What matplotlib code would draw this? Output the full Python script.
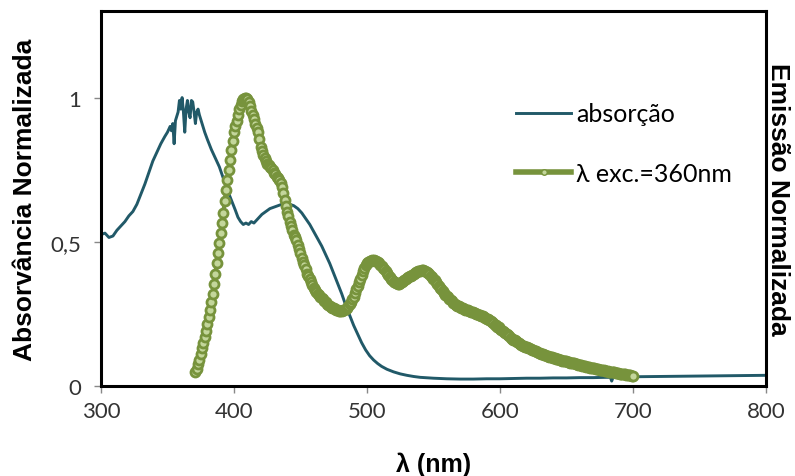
import numpy as np
import matplotlib
matplotlib.use('Agg')
import matplotlib.pyplot as plt

# absorption spectrum (wavelength nm, normalised absorbance)
abs_wl = [300, 303, 306, 309, 312, 315, 318, 321, 324, 327, 330, 333, 336, 339, 342,
          345, 348, 350, 352, 353, 354, 355, 356, 358, 359, 360, 361, 362, 363, 364,
          365, 366, 367, 368, 369, 370, 371, 372, 373, 374, 376, 378, 380, 383, 386,
          389, 392, 395, 398, 401, 403, 405, 407, 409, 411, 413, 415, 418, 421, 424,
          427, 430, 433, 436, 439, 442, 445, 448, 451, 454, 457, 460, 463, 466, 469,
          472, 475, 478, 481, 484, 487, 490, 493, 496, 499, 502, 505, 508, 511, 515,
          520, 525, 530, 535, 540, 550, 560, 570, 580, 590, 600, 610, 620, 630, 640,
          650, 660, 670, 680, 683, 684, 685, 690, 700, 720, 740, 760, 780, 800]
abs_val = [0.525, 0.53, 0.515, 0.52, 0.54, 0.555, 0.57, 0.59, 0.605, 0.63, 0.665, 0.70, 0.74, 0.78, 0.81,
           0.84, 0.865, 0.88, 0.90, 0.885, 0.91, 0.84, 0.92, 0.95, 0.99, 0.96, 1.0, 0.95, 0.88, 0.96,
           0.99, 0.95, 0.93, 0.99, 0.985, 0.95, 0.91, 0.95, 0.96, 0.94, 0.91, 0.88, 0.855, 0.82, 0.79,
           0.76, 0.72, 0.68, 0.645, 0.61, 0.585, 0.57, 0.56, 0.565, 0.56, 0.57, 0.565, 0.58, 0.595, 0.605,
           0.615, 0.62, 0.625, 0.63, 0.632, 0.63, 0.625, 0.615, 0.60, 0.58, 0.56, 0.535, 0.51, 0.485, 0.455,
           0.425, 0.39, 0.355, 0.32, 0.28, 0.245, 0.21, 0.18, 0.15, 0.125, 0.105, 0.09, 0.078, 0.068, 0.058,
           0.049, 0.042, 0.037, 0.033, 0.03, 0.027, 0.025, 0.024, 0.024, 0.025, 0.025, 0.026, 0.027, 0.027, 0.028,
           0.028, 0.029, 0.029, 0.03, 0.03, 0.017, 0.03, 0.031, 0.032, 0.033, 0.034, 0.035, 0.036, 0.037]

# emission spectrum, excitation 360 nm, 1 nm steps from 371 to 700
em_wl = list(range(371, 701))
em_val = [0.05, 0.06, 0.075, 0.09, 0.11, 0.13, 0.15, 0.17, 0.19, 0.215,
          0.24, 0.265, 0.29, 0.32, 0.355, 0.39, 0.425, 0.46, 0.495, 0.53,
          0.565, 0.60, 0.64, 0.68, 0.715, 0.75, 0.785, 0.82, 0.85, 0.88,
          0.90, 0.92, 0.94, 0.96, 0.975, 0.988, 0.996, 1.0, 1.0, 0.995,
          0.985, 0.97, 0.955, 0.94, 0.925, 0.91, 0.895, 0.88, 0.855, 0.83,
          0.815, 0.80, 0.79, 0.78, 0.77, 0.765, 0.76, 0.755, 0.75, 0.74,
          0.735, 0.725, 0.72, 0.715, 0.705, 0.69, 0.67, 0.645, 0.625, 0.605,
          0.59, 0.57, 0.555, 0.54, 0.525, 0.515, 0.505, 0.49, 0.475, 0.46,
          0.445, 0.43, 0.42, 0.405, 0.39, 0.38, 0.37, 0.36, 0.35,
          0.34, 0.332, 0.325, 0.32, 0.315, 0.31, 0.305, 0.30, 0.295, 0.29,
          0.285, 0.281, 0.278, 0.275, 0.272, 0.27, 0.267, 0.264, 0.262, 0.261,
          0.26, 0.26, 0.262, 0.265, 0.268, 0.272, 0.277, 0.283, 0.29, 0.30,
          0.31, 0.322, 0.335, 0.348, 0.36, 0.372, 0.385, 0.398, 0.41, 0.418,
          0.425, 0.429, 0.432, 0.434, 0.436, 0.436, 0.435, 0.433, 0.43, 0.425,
          0.42, 0.415, 0.41, 0.404, 0.397, 0.391, 0.385, 0.378, 0.372, 0.367,
          0.362, 0.359, 0.356, 0.355, 0.355, 0.357, 0.36, 0.363, 0.367, 0.37,
          0.374, 0.377, 0.38, 0.383, 0.386, 0.389, 0.392, 0.395, 0.397, 0.399,
          0.40, 0.401, 0.401, 0.40, 0.398, 0.395, 0.392, 0.388, 0.383, 0.378,
          0.372, 0.366, 0.36, 0.353, 0.347, 0.341, 0.335, 0.329, 0.323, 0.317,
          0.312, 0.307, 0.302, 0.297, 0.293, 0.289, 0.285, 0.282, 0.279, 0.276,
          0.274, 0.271, 0.269, 0.267, 0.265, 0.263, 0.262, 0.26, 0.258, 0.256,
          0.255, 0.253, 0.251, 0.249, 0.247, 0.245, 0.243, 0.241, 0.239, 0.237,
          0.234, 0.231, 0.228, 0.225, 0.221, 0.217, 0.213, 0.21, 0.206, 0.203,
          0.199, 0.195, 0.191, 0.188, 0.184, 0.18, 0.176, 0.172, 0.168, 0.164,
          0.161, 0.158, 0.155, 0.152, 0.149, 0.146, 0.143, 0.14, 0.138, 0.136,
          0.134, 0.132, 0.13, 0.128, 0.126, 0.124, 0.122, 0.12, 0.118, 0.116,
          0.114, 0.112, 0.11, 0.108, 0.107, 0.105, 0.104, 0.102, 0.101, 0.099,
          0.098, 0.096, 0.095, 0.093, 0.092, 0.09, 0.089, 0.088, 0.087, 0.086,
          0.085, 0.083, 0.082, 0.081, 0.08, 0.079, 0.078, 0.077, 0.076, 0.074,
          0.073, 0.072, 0.071, 0.069, 0.068, 0.067, 0.066, 0.065, 0.064, 0.063,
          0.062, 0.061, 0.06, 0.059, 0.058, 0.057, 0.056, 0.055, 0.054, 0.053,
          0.052, 0.051, 0.05, 0.049, 0.048, 0.047, 0.047, 0.046, 0.045, 0.044,
          0.043, 0.042, 0.041, 0.041, 0.04, 0.039, 0.038, 0.038, 0.037, 0.036,
          0.035]

x_ticks = [300, 400, 500, 600, 700, 800]
y_ticks = [0, 0.5, 1]
y_labels = ['0', '0,5', '1']

abs_color = '#215968'
em_edge = '#77933C'
em_face = '#C3D69B'

fig = plt.figure(figsize=(7.95, 4.77), dpi=100)
ax = fig.add_axes([0.127, 0.1887, 0.8365, 0.786])

ax.plot(abs_wl, abs_val, color=abs_color, lw=2.1, label='absorção', zorder=2)
ax.plot(em_wl, em_val, color=em_edge, lw=3, marker='o', markersize=6.5,
        markerfacecolor=em_face, markeredgecolor=em_edge, markeredgewidth=2.0,
        label='λ exc.=360nm', zorder=3)

ax.set_xlim(300, 800)
ax.set_ylim(0, 1.3)
ax.set_xticks(x_ticks)
ax.set_yticks(y_ticks)
ax.set_yticklabels(y_labels)
ax.tick_params(direction='out', length=5, width=1, color='#888888',
               labelsize=16, labelcolor='#333333')
ax.tick_params(axis='x', pad=6)
ax.tick_params(axis='y', pad=9)
for lbl in ax.get_xticklabels() + ax.get_yticklabels():
    lbl.set_family('Lato')
for s in ax.spines.values():
    s.set_linewidth(2.2)
    s.set_color('black')

ax.set_xlabel('λ (nm)', fontsize=18, fontweight='bold', family='Liberation Sans', labelpad=22)
ax.set_ylabel('Absorvância Normalizada', fontsize=19, fontweight='bold',
              family='Liberation Sans', labelpad=10)

ax2 = ax.twinx()
ax2.set_ylim(0, 1.3)
ax2.set_yticks([])
ax2.spines[:].set_visible(False)
ax2.set_ylabel('Emissão Normalizada', fontsize=19, fontweight='bold',
               family='Liberation Sans', rotation=270, labelpad=17)

leg = ax.legend(loc='upper left', bbox_to_anchor=(0.606, 0.79), frameon=False,
                prop={'family': 'Lato', 'size': 18}, handlelength=2.2,
                handletextpad=0.2, labelspacing=1.45, borderpad=0, numpoints=1)
leg.legend_handles[1].set_markersize(4)
leg.legend_handles[1].set_markeredgewidth(1)
leg.legend_handles[1].set_linewidth(4)

fig.savefig('out.png', dpi=100)
